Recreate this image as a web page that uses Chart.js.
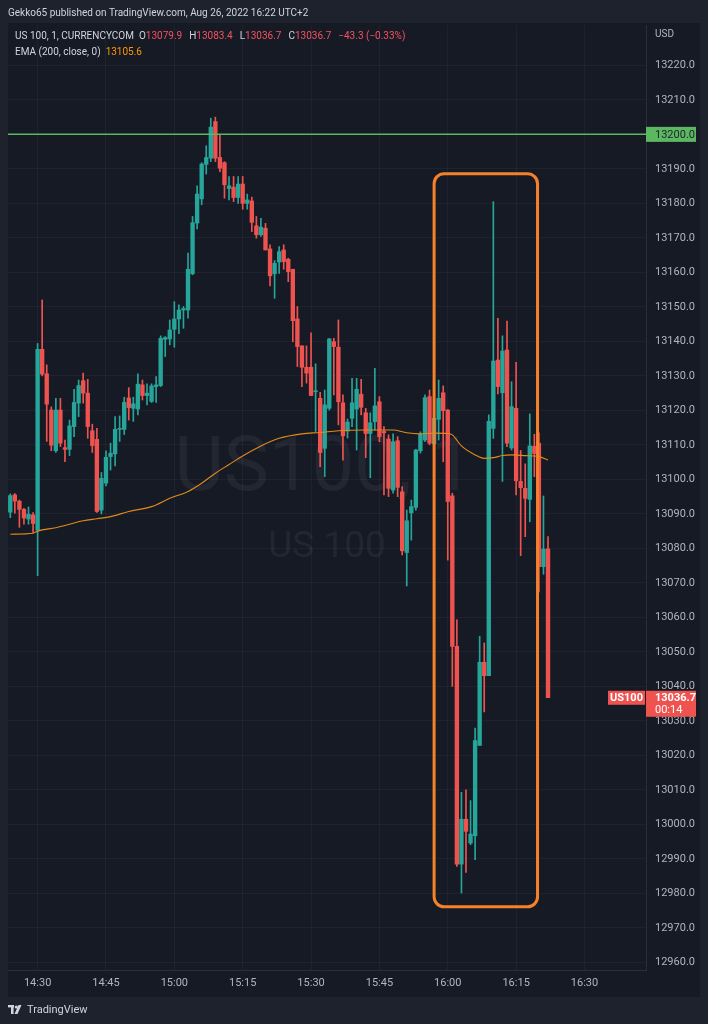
<!DOCTYPE html>
<html>
<head>
<meta charset="utf-8">
<script src="https://cdn.jsdelivr.net/npm/chart.js@4.4.0/dist/chart.umd.min.js"></script>
<style>
  html, body { margin: 0; padding: 0; background: #1e222d; }
  #wrap { position: relative; width: 708px; height: 1024px; overflow: hidden;
          font-family: Roboto, "Noto Sans", sans-serif; }
  canvas { position: absolute; left: 0; top: 0; }
  .t { position: absolute; font-size: 10px; line-height: 14px; white-space: nowrap; color: #d1d4dc; z-index: 2; }
  .red { color: #f7525f; }
  .org { color: #ff9800; }
  .gap { margin-left: 5px; }
  .gap2 { margin-left: 7px; }
</style>
</head>
<body>
<div id="wrap">
  <canvas id="chart" width="708" height="1024"></canvas>
  <div class="t" style="left:8px; top:6px;">Gekko65 published on TradingView.com, Aug 26, 2022 16:22 UTC+2</div>
  <div class="t" style="left:15px; top:29px;">US 100, 1, CURRENCYCOM<span class="gap">O</span><span class="red">13079.9</span><span class="gap2">H</span><span class="red">13083.4</span><span class="gap2">L</span><span class="red">13036.7</span><span class="gap2">C</span><span class="red">13036.7</span><span class="red gap2">−43.3 (−0.33%)</span></div>
  <div class="t" style="left:15px; top:45px;">EMA (200, close, 0)<span class="org gap">13105.6</span></div>
  <div class="t" style="left:655px; top:27px; color:#b2b5be;">USD</div>
  <svg style="position:absolute; left:8px; top:1005px; z-index:2;" width="16" height="10" viewBox="0 0 16 10">
    <rect x="0" y="0" width="6" height="2.4" fill="#d1d4dc"/>
    <rect x="3" y="0" width="2.6" height="9" fill="#d1d4dc"/>
    <circle cx="8.3" cy="2" r="1.6" fill="#d1d4dc"/>
    <polygon points="10.5,0 13.5,0 9.5,9 6.5,9" fill="#d1d4dc"/>
  </svg>
  <div class="t" style="left:27px; top:1003px; font-size:11px;">TradingView</div>
</div>
<script>
// minutes on the time axis start at 14:24, 140 one-minute slots
const firstMinute = 14 * 60 + 24;
const slotCount = 140;
const timeLabels = [];
for (let i = 0; i < slotCount; i++) {
  const m = firstMinute + i;
  timeLabels.push(String(Math.floor(m / 60)).padStart(2, "0") + ":" + String(m % 60).padStart(2, "0"));
}
const timeTicks = ["14:30", "14:45", "15:00", "15:15", "15:30", "15:45", "16:00", "16:15", "16:30"];
const priceTicks = [12960, 12970, 12980, 12990, 13000, 13010, 13020, 13030, 13040, 13050, 13060,
  13070, 13080, 13090, 13100, 13110, 13120, 13130, 13140, 13150, 13160, 13170, 13180, 13190,
  13200, 13210, 13220];

// 1-minute candles, 14:24 .. 16:22
const opens = [
  13090.5, 13095.5, 13093.7, 13091.3, 13088.5, 13089.7, 13085.3, 13137.7, 13130.6, 13120.1,
  13108.3, 13120.1, 13109.2, 13108.7, 13115.3, 13122.1, 13128.6, 13125.0, 13114.1, 13111.6,
  13091.1, 13098.9, 13106.6, 13107.4, 13114.5, 13114.5, 13123.6, 13120.6, 13120.4, 13127.4,
  13124.3, 13122.6, 13126.9, 13127.2, 13140.6, 13140.7, 13143.5, 13146.5, 13149.1, 13149.1,
  13159.6, 13174.3, 13181.3, 13191.3, 13193.1, 13203.7, 13193.3, 13191.8, 13184.3, 13184.7,
  13181.7, 13185.6, 13180.0, 13180.7, 13173.5, 13170.9, 13172.8, 13166.8, 13159.6, 13163.0,
  13166.5, 13163.8, 13160.9, 13146.5, 13138.7, 13132.5, 13132.5, 13125.4, 13123.5, 13109.0,
  13120.6, 13139.9, 13138.3, 13122.2, 13114.0, 13117.7, 13120.4, 13124.7, 13119.3, 13113.3,
  13116.7, 13122.5, 13113.9, 13111.7, 13096.9, 13111.2, 13096.4, 13078.8, 13090.3, 13091.9,
  13108.3, 13111.4, 13124.0, 13110.3, 13117.4, 13125.1, 13120.1, 13095.2, 13051.6, 12988.5,
  13001.5, 12994.6, 12996.7, 13022.9, 13047.0, 13043.1, 13114.8, 13134.6, 13125.1, 13137.5,
  13109.1, 13120.6, 13099.4, 13097.4, 13094.2, 13109.6, 13110.5, 13074.7, 13079.9
];
const highs = [
  13095.8, 13095.9, 13094.0, 13091.6, 13092.0, 13090.4, 13139.4, 13152.0, 13133.2, 13121.0,
  13123.5, 13123.5, 13111.4, 13117.2, 13126.1, 13128.8, 13130.8, 13129.0, 13116.0, 13114.8,
  13102.0, 13108.3, 13110.5, 13118.2, 13118.4, 13123.8, 13126.6, 13123.8, 13130.6, 13128.8,
  13127.7, 13127.7, 13129.8, 13141.6, 13141.4, 13146.2, 13151.5, 13150.6, 13150.1, 13165.6,
  13176.2, 13185.1, 13191.8, 13196.7, 13204.7, 13205.0, 13199.9, 13192.1, 13187.8, 13187.8,
  13187.8, 13187.8, 13182.7, 13181.8, 13176.2, 13175.7, 13174.2, 13168.0, 13163.4, 13167.5,
  13168.0, 13164.1, 13160.9, 13150.1, 13138.7, 13138.7, 13142.5, 13133.5, 13125.2, 13125.9,
  13140.9, 13140.9, 13146.2, 13124.5, 13117.5, 13129.3, 13129.3, 13129.0, 13120.6, 13119.3,
  13132.2, 13124.0, 13115.3, 13112.9, 13113.2, 13112.4, 13097.9, 13091.1, 13094.0, 13108.7,
  13113.8, 13124.5, 13125.9, 13118.5, 13128.8, 13127.1, 13120.3, 13096.0, 13059.3, 13009.3,
  13010.0, 13006.9, 13027.9, 13054.5, 13052.6, 13118.7, 13180.5, 13146.7, 13141.6, 13145.9,
  13128.3, 13133.9, 13108.4, 13104.5, 13119.0, 13113.1, 13113.5, 13095.2, 13083.4
];
const lows = [
  13088.9, 13090.2, 13086.1, 13087.0, 13087.0, 13084.6, 13072.1, 13130.0, 13111.0, 13108.3,
  13107.8, 13109.5, 13105.1, 13106.9, 13112.4, 13118.2, 13122.1, 13111.9, 13107.8, 13090.4,
  13090.0, 13098.1, 13102.7, 13103.9, 13111.0, 13113.0, 13117.2, 13116.8, 13118.7, 13123.0,
  13121.6, 13122.3, 13122.3, 13126.9, 13135.6, 13139.0, 13138.3, 13142.2, 13143.8, 13146.7,
  13159.3, 13172.6, 13179.6, 13188.5, 13192.1, 13192.1, 13189.2, 13181.5, 13181.0, 13180.5,
  13180.0, 13178.3, 13178.3, 13171.8, 13169.9, 13170.4, 13166.5, 13156.1, 13152.5, 13159.7,
  13160.9, 13157.3, 13139.9, 13132.7, 13126.9, 13127.9, 13124.3, 13113.9, 13103.7, 13100.8,
  13120.1, 13124.5, 13115.8, 13105.6, 13112.0, 13115.3, 13108.5, 13118.7, 13106.3, 13100.5,
  13114.3, 13110.9, 13095.5, 13095.0, 13096.0, 13095.0, 13078.1, 13069.1, 13082.4, 13091.1,
  13107.6, 13110.9, 13110.0, 13109.3, 13111.4, 13105.1, 13076.6, 13040.0, 12987.8, 12980.1,
  12986.1, 12994.1, 12989.8, 13022.9, 13032.6, 13043.1, 13111.9, 13124.8, 13099.4, 13109.5,
  13108.5, 13095.5, 13077.9, 13083.4, 13087.7, 13100.8, 13067.4, 13072.5, 13036.7
];
const closes = [
  13095.3, 13093.7, 13091.3, 13088.8, 13089.9, 13087.2, 13137.7, 13130.5, 13121.8, 13109.9,
  13120.1, 13110.5, 13108.7, 13115.5, 13122.3, 13127.2, 13125.0, 13115.3, 13109.8, 13090.7,
  13100.3, 13106.4, 13107.6, 13114.5, 13114.8, 13122.3, 13120.8, 13121.9, 13127.6, 13124.3,
  13125.0, 13127.1, 13127.4, 13140.9, 13141.1, 13143.3, 13146.5, 13149.1, 13149.5, 13160.9,
  13174.4, 13182.7, 13191.4, 13193.3, 13202.1, 13193.1, 13190.2, 13185.4, 13185.1, 13181.7,
  13185.6, 13180.0, 13181.0, 13174.5, 13170.9, 13173.1, 13166.5, 13159.0, 13162.6, 13166.0,
  13163.1, 13160.2, 13146.0, 13138.5, 13132.5, 13130.8, 13124.3, 13125.7, 13107.8, 13121.6,
  13140.7, 13138.5, 13122.5, 13112.6, 13116.6, 13122.2, 13126.1, 13120.9, 13113.3, 13116.4,
  13121.3, 13112.4, 13113.5, 13097.4, 13110.9, 13097.7, 13079.3, 13088.0, 13092.1, 13108.5,
  13113.1, 13123.7, 13110.5, 13117.7, 13123.5, 13119.9, 13093.6, 13051.6, 12988.5, 13001.5,
  12998.0, 12997.2, 13024.3, 13047.0, 13043.1, 13116.8, 13134.3, 13126.9, 13137.2, 13110.5,
  13121.1, 13099.6, 13097.6, 13094.5, 13109.7, 13107.5, 13074.7, 13079.8, 13036.7
];

// EMA(200) at a few times
const emaTimes = ["14:24", "14:29", "14:30", "14:34", "14:37", "14:40", "14:43", "14:46", "14:50",
  "14:55", "14:59", "15:03", "15:06", "15:09", "15:12", "15:15", "15:19", "15:23", "15:28", "15:32",
  "15:36", "15:42", "15:48", "15:51", "15:54", "15:57", "16:00", "16:01", "16:03", "16:06", "16:08",
  "16:10", "16:12", "16:14", "16:17", "16:20", "16:22"];
const emaValues = [13084.1, 13084.4, 13085.0, 13086.0, 13087.0, 13088.0, 13088.6, 13089.2, 13090.7,
  13092.1, 13094.5, 13096.5, 13098.9, 13101.8, 13104.3, 13106.8, 13109.7, 13111.9, 13113.2, 13113.6,
  13114.1, 13114.3, 13114.3, 13113.5, 13113.2, 13113.4, 13113.3, 13112.9, 13109.7, 13107.1, 13106.1,
  13106.3, 13106.9, 13107.1, 13106.9, 13106.6, 13105.6];

const levelPrice = 13200;
const boxTimes = ["15:57", "16:19"];
const boxPrices = [13188.6, 12976.1];
const countdown = "00:14";

const up = "#26a69a";
const down = "#ef5350";
const gridColor = "rgba(240, 243, 250, 0.045)";
const candleColors = closes.map((c, i) => (c >= opens[i] ? up : down));

const drawings = {
  id: "drawings",
  beforeDraw(chart) {
    const ctx = chart.ctx;
    ctx.save();
    ctx.fillStyle = "#1e222d";
    ctx.fillRect(0, 0, chart.width, chart.height);
    ctx.fillStyle = "#161a25";
    ctx.fillRect(8, 23, 692, 974);
    ctx.restore();
  },
  beforeDatasetsDraw(chart) {
    const ctx = chart.ctx;
    const a = chart.chartArea;
    const cx = (a.left + a.right) / 2;
    ctx.save();
    ctx.fillStyle = "rgba(255, 255, 255, 0.055)";
    ctx.textAlign = "center";
    ctx.textBaseline = "alphabetic";
    ctx.font = "76px Roboto, sans-serif";
    ctx.fillText("US100, 1", cx - 3, 490);
    ctx.font = "37px Roboto, sans-serif";
    ctx.fillText("US 100", cx, 557);
    ctx.restore();
  },
  afterDatasetsDraw(chart) {
    const ctx = chart.ctx;
    const a = chart.chartArea;
    const xs = chart.scales.x;
    const ys = chart.scales.y;
    ctx.save();
    // horizontal level
    const yl = ys.getPixelForValue(levelPrice);
    ctx.strokeStyle = "#5cb860";
    ctx.lineWidth = 1.5;
    ctx.beginPath();
    ctx.moveTo(a.left, yl);
    ctx.lineTo(a.right, yl);
    ctx.stroke();
    // highlight box
    const x0 = xs.getPixelForValue(timeLabels.indexOf(boxTimes[0]));
    const x1 = xs.getPixelForValue(timeLabels.indexOf(boxTimes[1]) + 0.7);
    const y0 = ys.getPixelForValue(boxPrices[0]);
    const y1 = ys.getPixelForValue(boxPrices[1]);
    ctx.strokeStyle = "#f5812a";
    ctx.lineWidth = 3;
    ctx.beginPath();
    ctx.roundRect(x0, y0, x1 - x0, y1 - y0, 10);
    ctx.stroke();
    ctx.restore();
  },
  afterDraw(chart) {
    const ctx = chart.ctx;
    const ys = chart.scales.y;
    const a = chart.chartArea;
    ctx.save();
    ctx.font = "11px Roboto, sans-serif";
    ctx.textBaseline = "middle";
    // level label
    const yl = ys.getPixelForValue(levelPrice);
    ctx.fillStyle = "#5cb860";
    ctx.fillRect(a.right, yl - 7.5, 50, 15);
    ctx.fillStyle = "#1e222d";
    ctx.textAlign = "left";
    ctx.fillText(levelPrice.toFixed(1), a.right + 9, yl + 0.5);
    // last price label
    const last = closes[closes.length - 1];
    const yp = ys.getPixelForValue(last);
    ctx.fillStyle = down;
    ctx.fillRect(a.right, yp - 7, 50, 26);
    ctx.fillRect(a.right - 38, yp - 7, 37, 14);
    ctx.fillStyle = "#ffffff";
    ctx.font = "bold 11px Roboto, sans-serif";
    ctx.fillText(last.toFixed(1), a.right + 9, yp);
    ctx.font = "11px Roboto, sans-serif";
    ctx.fillText(countdown, a.right + 9, yp + 12);
    ctx.textAlign = "center";
    ctx.font = "bold 11px Roboto, sans-serif";
    ctx.fillText("US100", a.right - 19.5, yp);
    ctx.restore();
  }
};

Chart.defaults.font.family = 'Roboto, "Noto Sans", sans-serif';
Chart.defaults.font.size = 11;

new Chart(document.getElementById("chart").getContext("2d"), {
  type: "bar",
  data: {
    labels: timeLabels,
    datasets: [
      {
        type: "line",
        label: "EMA",
        data: emaTimes.map((t, i) => ({ x: t, y: emaValues[i] })),
        borderColor: "#e08a1a",
        borderWidth: 1.1,
        pointRadius: 0,
        cubicInterpolationMode: "monotone",
        order: 0,
      },
      {
        label: "bodies",
        data: opens.map((o, i) => [o, closes[i]]),
        backgroundColor: candleColors,
        barThickness: 3.7,
        minBarLength: 1,
        grouped: false,
        borderSkipped: false,
        order: 1,
      },
      {
        label: "wicks",
        data: lows.map((l, i) => [l, highs[i]]),
        backgroundColor: candleColors,
        barThickness: 1,
        grouped: false,
        borderSkipped: false,
        order: 2,
      },
    ],
  },
  options: {
    responsive: false,
    devicePixelRatio: 1,
    animation: false,
    layout: { padding: { left: 8, top: 25, right: 8, bottom: 27 } },
    plugins: {
      legend: { display: false },
      tooltip: { enabled: false },
    },
    scales: {
      x: {
        type: "category",
        offset: true,
        grid: {
          offset: false,
          drawTicks: false,
          color: (ctx) => (ctx.tick && ctx.tick.label ? gridColor : "transparent"),
        },
        border: { color: "#2a2e39" },
        ticks: {
          autoSkip: false,
          maxRotation: 0,
          color: "#b2b5be",
          padding: 7,
          callback: function (v) {
            const l = this.getLabelForValue(v);
            return timeTicks.includes(l) ? l : "";
          },
        },
        afterFit: (s) => { s.height = 27; },
      },
      y: {
        position: "right",
        min: 12957.8,
        max: 13231.7,
        afterBuildTicks: (s) => { s.ticks = priceTicks.map((v) => ({ value: v })); },
        grid: { color: gridColor, drawTicks: false },
        border: { color: "#2a2e39" },
        ticks: {
          color: "#b2b5be",
          padding: 9,
          crossAlign: "near",
          callback: (v) => Number(v).toFixed(1),
        },
        afterFit: (s) => { s.width = 54; },
      },
    },
  },
  plugins: [drawings],
});
</script>
</body>
</html>
